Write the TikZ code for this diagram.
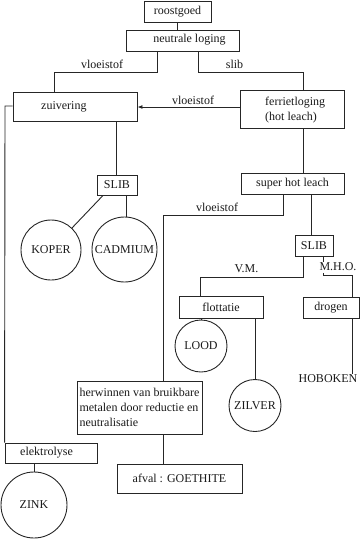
\documentclass[tikz,border=0pt]{standalone}
\usepackage{fontspec}
\setmainfont{Liberation Serif}
\usetikzlibrary{arrows.meta}
\begin{document}
\begin{tikzpicture}[x=1pt,y=-1pt,
  every node/.style={font=\fontsize{12}{15}\selectfont, text=black!90},
  box/.style={draw=black!85, line width=0.9pt, inner sep=1pt},
  txt/.style={inner sep=0pt},
  metal/.style={circle, draw=black!85, line width=0.9pt, inner sep=0pt, minimum size=#1},
  conn/.style={draw=black!85, line width=0.9pt}]
\useasboundingbox (0,0) rectangle (360,539);
% boxes
\node[box, minimum width=67, minimum height=21] (roost) at (177.5,11.5) {roostgoed};
\node[box, minimum width=113, minimum height=21] (neutr) at (182.5,40.5) {};
\node[txt] (neutrt) at (189.5,40) {neutrale loging};
\node[box, minimum width=124, minimum height=29] (zuiv) at (75,106.5) {};
\node[txt, anchor=west] (zuivt) at (41,106.5) {zuivering};
\node[box, minimum width=104, minimum height=38] (ferr) at (292,109) {};
\node[txt, anchor=west, align=left] (ferrt) at (265,110) {ferrietloging\\(hot leach)};
\node[box, minimum width=40, minimum height=20] (slib1) at (117,185) {SLIB};
\node[metal=60] (koper) at (51,250) {KOPER};
\node[metal=65] (cadm) at (124.5,249.5) {CADMIUM};
\node[box, minimum width=103, minimum height=21] (shl) at (292.5,183.5) {super hot leach};
\node[box, minimum width=38, minimum height=21] (slib2) at (314,245.5) {SLIB};
\node[box, minimum width=84, minimum height=22] (flott) at (221,307) {flottatie};
\node[box, minimum width=56, minimum height=21] (drogen) at (331,307.5) {drogen};
\node[metal=52] (lood) at (201,346) {LOOD};
\node[metal=52] (zilver) at (255,405.5) {ZILVER};
\node[txt, inner sep=1pt] (hob) at (328,379) {HOBOKEN};
\node[box, align=left, inner xsep=1pt, minimum width=125, minimum height=53] (herw) at (139.5,407.5) {herwinnen van bruikbare\\metalen door reductie en\\neutralisatie};
\node[box, minimum width=125, minimum height=29] (afval) at (179.5,478.5) {afval : GOETHITE};
\node[box, minimum width=92, minimum height=20] (elek) at (51,453) {};
\node[txt] (elekt) at (46.5,452.5) {elektrolyse};
\node[metal=66] (zink) at (34,505) {ZINK};
% labels
\node[txt] (l1) at (102,64) {vloeistof};
\node[txt] (l2) at (234.5,64) {slib};
\node[txt] (l3) at (193,100) {vloeistof};
\node[txt] (l4) at (217,207) {vloeistof};
\node[txt] (l5) at (246.5,269) {V.M.};
\node[txt] (l6) at (338,267) {M.H.O.};
% connectors
\draw[conn] (roost.south) -- (roost.south |- neutr.north);
\draw[conn] (neutr.south -| 157,0) -- ++(0,21) -| (zuiv.north -| 54,0);
\draw[conn] (neutr.south -| 198,0) -- ++(0,21) -| (ferr.north -| 303,0);
\draw[conn, -{Latex[length=5pt,width=4pt]}] (ferr.west |- 0,107) -- (zuiv.east |- 0,107);
\draw[conn] (zuiv.west |- 0,106) -- (5,106) -- (elek.north west);
\draw[conn] (zuiv.south -| 116,0) -- (slib1.north -| 116,0);
\draw[conn] (slib1.south -| 103,0) -- (koper);
\draw[conn] (slib1.south -| 126,0) -- (cadm.north -| 126,0);
\draw[conn] (ferr.south -| 303,0) -- (shl.north -| 303,0);
\draw[conn] (shl.south -| 283,0) -- ++(0,21) -| (herw.north -| 163,0);
\draw[conn] (shl.south -| 311,0) -- (slib2.north -| 311,0);
\draw[conn] (slib2.south -| 303,0) -- ++(0,21) -| (flott.north -| 200,0);
\draw[conn] (slib2.south -| 323,0) -- ++(0,6);
\coordinate (mho) at (323,275);
\draw[conn] (mho) -- ++(0,-2);
\draw[conn] (mho) -| (drogen.north -| 352,0);
\draw[conn] (flott.south -| lood.north) -- (lood.north);
\draw[conn] (flott.south -| zilver.north) -- (zilver.north);
\draw[conn] (drogen.south -| 352,0) -- (hob.north -| 352,0);
\draw[conn] (herw.south -| 163,0) -- (afval.north -| 163,0);
\draw[conn] (elek.south -| zink.north) -- (zink.north);
\end{tikzpicture}
\end{document}
